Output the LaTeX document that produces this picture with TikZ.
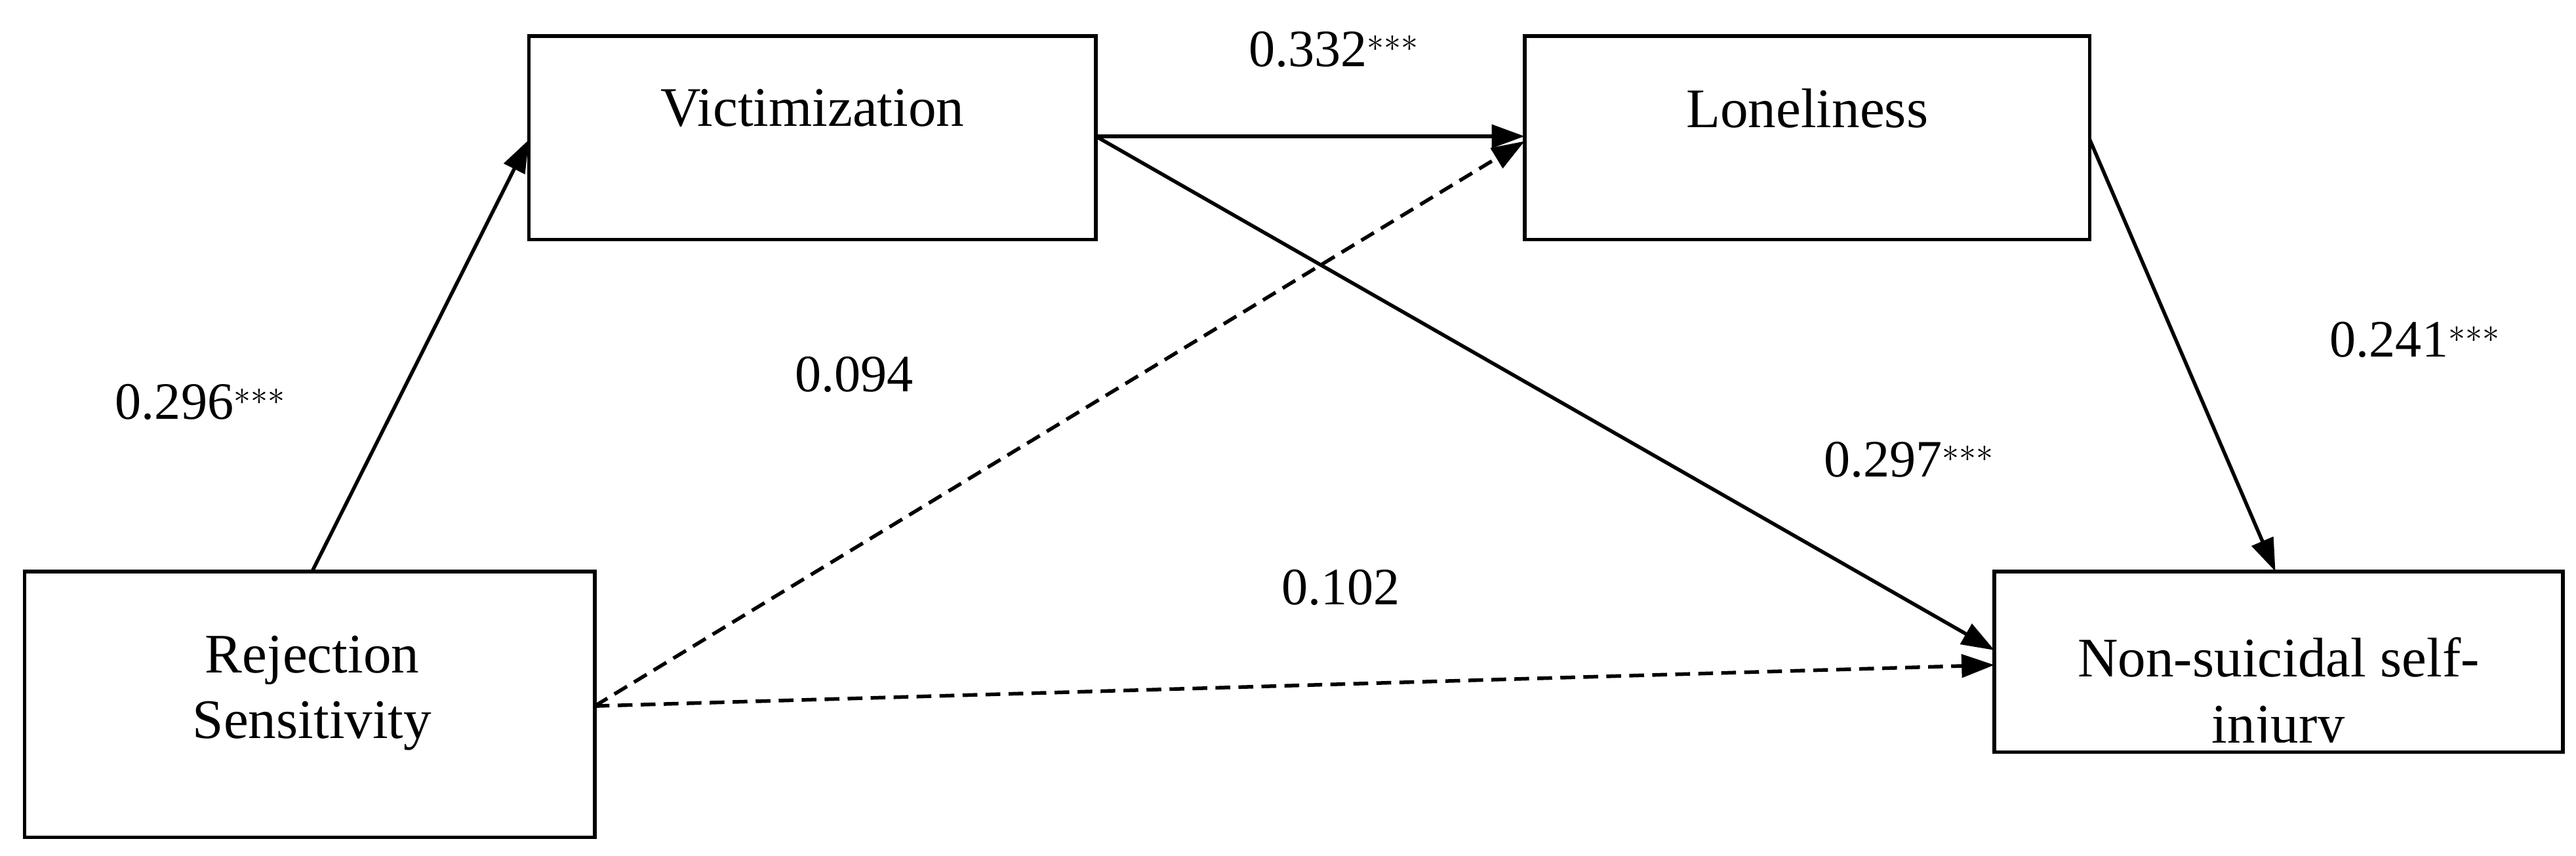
\documentclass[tikz,border=0pt]{standalone}
\usepackage{fontspec}
\setmainfont{Liberation Serif}
\usetikzlibrary{arrows.meta}
\begin{document}
\begin{tikzpicture}[x=1pt,y=-1pt,
  box/.style={draw,line width=2.2pt,inner sep=0pt},
  conn/.style={line width=2.2pt,-{Triangle[length=20pt,width=14pt]}},
  lab/.style={font=\fontsize{32}{36}\selectfont},
  btxt/.style={font=\fontsize{34}{40}\selectfont,align=center}]
\useasboundingbox (0,0) rectangle (1568,521);
\draw[box] (322,22) rectangle (667,146);
\node[btxt] (vt) at (494.5,66) {Victimization};
\coordinate (v) at (494.5,84);
\draw[box] (928,22) rectangle (1272,146);
\node[btxt] (lt) at (1100,66) {Loneliness};
\draw[box] (15,348) rectangle (362,510);
\node[btxt] (rt) at (190,422) {Rejection\\Sensitivity};
\draw[box] (1214,348) rectangle (1560,458);
\begin{scope}
\clip (1216,350) rectangle (1558,452);
\node[btxt] (nt) at (1387,424) {Non-suicidal self-\\injury};
\end{scope}
\coordinate (rsTop) at (190,348);
\coordinate (vBL) at (322,85);
\coordinate (vR) at (667,83);
\coordinate (lL) at (928,83);
\coordinate (lL2) at (928,86);
\coordinate (nL) at (1214,396);
\coordinate (nL2) at (1214,405);
\coordinate (rsR) at (362,430);
\coordinate (lR) at (1272,85);
\coordinate (nT) at (1385,348);
\draw[conn] (rsTop) -- (vBL);
\draw[conn] (vR) -- (lL);
\draw[conn] (vR) -- (nL);
\draw[conn,dashed,dash pattern=on 9pt off 5pt] (rsR) -- (lL2);
\draw[conn,dashed,dash pattern=on 9pt off 5pt] (rsR) -- (nL2);
\draw[conn] (lR) -- (nT);
\node[lab] (a) at (122,245) {0.296$^{***}$};
\node[lab] (b) at (520,228) {0.094};
\node[lab] (c) at (812,30) {0.332$^{***}$};
\node[lab] (d) at (1470,207) {0.241$^{***}$};
\node[lab] (e) at (1162,280) {0.297$^{***}$};
\node[lab] (f) at (816,358) {0.102};
\end{tikzpicture}
\end{document}
